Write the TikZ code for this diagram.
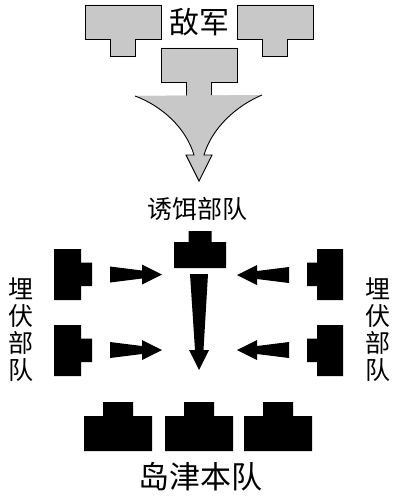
\documentclass[tikz,border=0pt]{standalone}
\usepackage{fontspec}
\newfontfamily\cjk{Noto Sans CJK SC}
\usetikzlibrary{arrows.meta}
\definecolor{dijun}{RGB}{200,200,200}
\begin{document}
\begin{tikzpicture}[x=1pt,y=-1pt,
  enemy/.style={fill=dijun,draw=black,line width=0.9pt},
  label/.style={font=\cjk\fontsize{#1}{#1}\selectfont,inner sep=0pt},
  barrow/.pic={\fill (0,-8) -- (32,-4) -- (32,-10) -- (52,0) -- (32,10) -- (32,4) -- (0,8) -- cycle;}]
\useasboundingbox (0,0) rectangle (403,500);
% enemy
\foreach \x/\y in {123/5, 275/5, 199/48}
  \draw[enemy] (\x-38,\y) -- ++(76,0) -- ++(0,34) -- ++(-25.5,0) -- ++(0,17) -- ++(-25,0) -- ++(0,-17) -- ++(-25.5,0) -- cycle;
\node[label=30] (dijun) at (199,22) {敌军};
\fill[dijun] (135,96) .. controls (199,110) .. (262,95) -- cycle;
\filldraw[enemy] (135,96) .. controls (162,106) and (186,128) .. (194,155) -- (186,155) -- (199,181)
  -- (212,155) -- (204,155) .. controls (212,128) and (236,106) .. (262,95);
% decoy
\node[label=25] (youer) at (197,209) {诱饵部队};
\fill (174,242) rectangle (226,268) (188.5,231) rectangle (211.5,242);
\fill (190,274) -- (208,274) -- (203.5,350) -- (209,350) -- (199,370) -- (189,350) -- (195,350) -- cycle;
% ambush
\foreach \y in {249,325}{
  \fill (54,\y) rectangle (81,\y+51) (81,\y+13.5) rectangle (92,\y+37);
  \fill (317,\y) rectangle (343,\y+51) (307,\y+13.5) rectangle (317,\y+37);
}
\pic at (110,274.5) {barrow};
\pic at (110,350) {barrow};
\pic[rotate=180] at (289,275) {barrow};
\pic[rotate=180] at (289,350) {barrow};
\node[label=25,align=center,font=\cjk\fontsize{25}{27}\selectfont] (maifuL) at (21,330) {埋\\伏\\部\\队};
\node[label=25,align=center,font=\cjk\fontsize{25}{27}\selectfont] (maifuR) at (378,330) {埋\\伏\\部\\队};
% main
\foreach \x in {118,199,278}
  \fill (\x-34,416) rectangle (\x+34,451) (\x-15,402) rectangle (\x+15,416);
\node[label=31] (bendui) at (200,477) {岛津本队};
\end{tikzpicture}
\end{document}
